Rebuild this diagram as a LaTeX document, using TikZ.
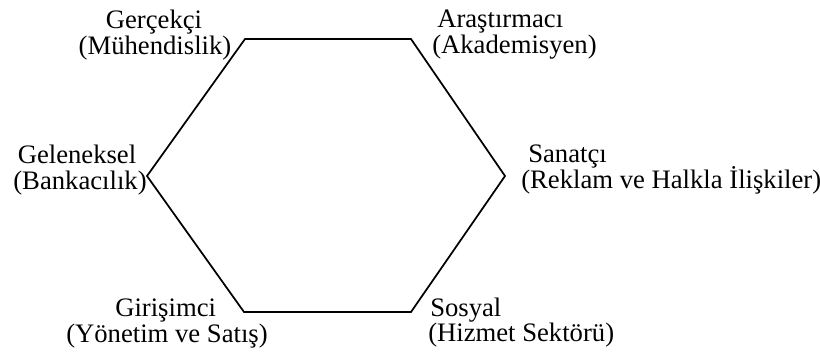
\documentclass[tikz,border=0pt]{standalone}
\usepackage{fontspec}
\setmainfont{Liberation Serif}
\begin{document}
\begin{tikzpicture}[x=0.75pt,y=-0.75pt, every node/.append style={font=\fontsize{20}{24}\selectfont, inner sep=0pt}]
    \useasboundingbox (0,0) rectangle (820,354);

    \coordinate(hex-1) at (245,39);
    \coordinate(hex-2) at (411,39);
    \coordinate(hex-3) at (505,176);
    \coordinate(hex-4) at (411,312);
    \coordinate(hex-5) at (244,312);
    \coordinate(hex-6) at (147,176);

    \draw[line width=1.3pt] (hex-1) -- (hex-2) -- (hex-3) -- (hex-4) -- (hex-5) -- (hex-6) -- cycle;

    \node(real-1)[anchor=base] at (154,28) {Gerçekçi};
    \node(real-2)[anchor=base] at (155,54) {(Mühendislik)};

    \node(inv-1)[anchor=base west] at (437,27) {Araştırmacı};
    \node(inv-2)[anchor=base west] at (432,53) {(Akademisyen)};

    \node(conv-1)[anchor=base] at (77,163) {Geleneksel};
    \node(conv-2)[anchor=base] at (80,189) {(Bankacılık)};

    \node(art-1)[anchor=base west] at (528,162) {Sanatçı};
    \node(art-2)[anchor=base west] at (521,188) {(Reklam ve Halkla İlişkiler)};

    \node(ent-1)[anchor=base west] at (115,316) {Girişimci};
    \node(ent-2)[anchor=base west] at (66,342) {(Yönetim ve Satış)};

    \node(soc-1)[anchor=base west] at (430,316) {Sosyal};
    \node(soc-2)[anchor=base west] at (428,341) {(Hizmet Sektörü)};
\end{tikzpicture}
\end{document}
